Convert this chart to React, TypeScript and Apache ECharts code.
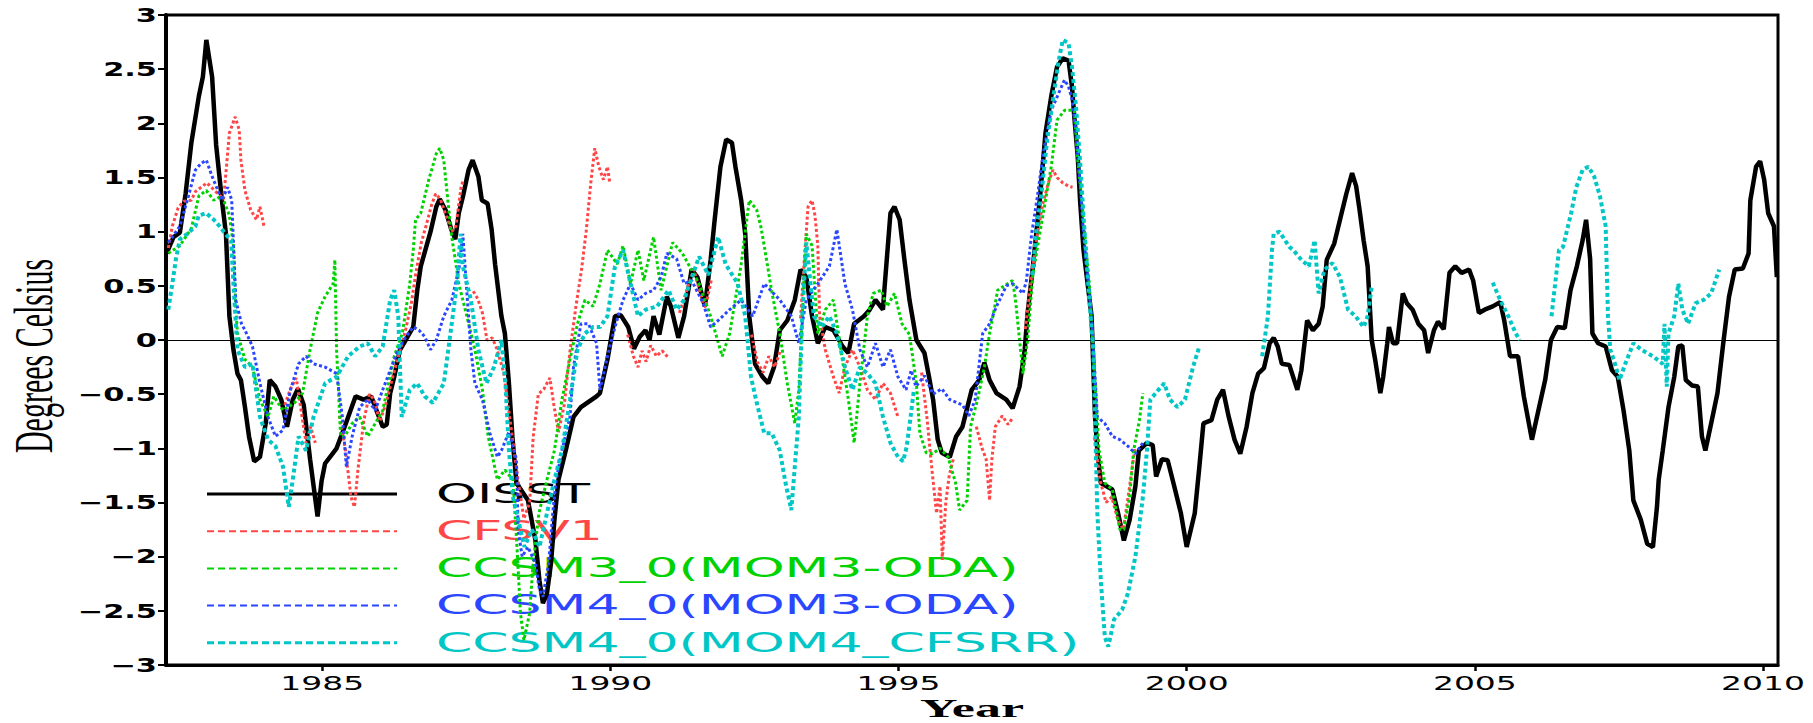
import React, { useEffect, useRef } from "react";
import * as echarts from "echarts";

const xTickYears = [1985, 1990, 1995, 2000, 2005, 2010];
const yTicks = [-3, -2.5, -2, -1.5, -1, -0.5, 0, 0.5, 1, 1.5, 2, 2.5, 3];
const seriesNames = ["OISST", "CFSV1", "CCSM3_0(MOM3-ODA)", "CCSM4_0(MOM3-ODA)", "CCSM4_0(MOM4_CFSRR)"];
const seriesColors = ["#000000", "#ff4646", "#00d200", "#2a46ff", "#00c6c6"];
const xTitle = "Year";
const yTitle = "Degrees Celsius";

const oisst = [
  [1982.30, 0.80], [1982.42, 0.95], [1982.53, 0.99], [1982.63, 1.35], [1982.73, 1.82], [1982.86, 2.25], [1982.93, 2.43],
  [1982.99, 2.77], [1983.09, 2.43], [1983.16, 1.80], [1983.26, 1.29], [1983.33, 0.98], [1983.39, 0.22], [1983.46, -0.09],
  [1983.53, -0.31], [1983.59, -0.37], [1983.66, -0.62], [1983.73, -0.89], [1983.82, -1.12], [1983.92, -1.08], [1984.02, -0.77],
  [1984.09, -0.37], [1984.19, -0.43], [1984.29, -0.55], [1984.39, -0.80], [1984.49, -0.55], [1984.58, -0.45], [1984.68, -0.60],
  [1984.79, -1.10], [1984.92, -1.63], [1984.99, -1.30], [1985.05, -1.14], [1985.25, -1.00], [1985.39, -0.80], [1985.58, -0.52],
  [1985.72, -0.55], [1985.85, -0.52], [1986.05, -0.80], [1986.12, -0.78], [1986.18, -0.49], [1986.25, -0.34], [1986.35, -0.09],
  [1986.45, 0.00], [1986.58, 0.12], [1986.65, 0.46], [1986.71, 0.68], [1986.88, 1.00], [1986.98, 1.23], [1987.04, 1.30],
  [1987.14, 1.20], [1987.24, 1.02], [1987.31, 0.93], [1987.37, 1.17], [1987.44, 1.32], [1987.54, 1.57], [1987.61, 1.66],
  [1987.71, 1.51], [1987.77, 1.29], [1987.87, 1.26], [1987.94, 1.02], [1988.00, 0.70], [1988.11, 0.22], [1988.17, 0.06],
  [1988.24, -0.40], [1988.30, -0.89], [1988.37, -1.32], [1988.57, -1.48], [1988.70, -1.85], [1988.77, -2.22], [1988.83, -2.43],
  [1988.90, -2.34], [1988.97, -2.06], [1989.03, -1.66], [1989.10, -1.29], [1989.23, -1.01], [1989.36, -0.71], [1989.49, -0.62],
  [1989.76, -0.52], [1989.82, -0.49], [1989.95, -0.18], [1990.08, 0.22], [1990.18, 0.23], [1990.31, 0.12], [1990.41, -0.08],
  [1990.51, 0.03], [1990.61, 0.09], [1990.68, 0.00], [1990.75, 0.22], [1990.85, 0.05], [1990.98, 0.40], [1991.05, 0.31],
  [1991.18, 0.02], [1991.28, 0.22], [1991.41, 0.65], [1991.51, 0.58], [1991.64, 0.31], [1991.74, 0.74], [1991.81, 1.11],
  [1991.91, 1.60], [1992.01, 1.85], [1992.11, 1.82], [1992.17, 1.60], [1992.27, 1.29], [1992.34, 0.98], [1992.41, 0.22],
  [1992.51, -0.22], [1992.64, -0.34], [1992.74, -0.40], [1992.84, -0.25], [1992.94, 0.09], [1993.07, 0.18], [1993.20, 0.37],
  [1993.30, 0.65], [1993.40, 0.58], [1993.50, 0.22], [1993.60, -0.03], [1993.73, 0.12], [1993.87, 0.09], [1994.03, -0.06],
  [1994.13, -0.12], [1994.23, 0.15], [1994.40, 0.22], [1994.50, 0.28], [1994.60, 0.37], [1994.73, 0.28], [1994.76, 0.50],
  [1994.86, 1.17], [1994.93, 1.23], [1995.02, 1.11], [1995.10, 0.75], [1995.19, 0.37], [1995.31, 0.00], [1995.45, -0.12],
  [1995.54, -0.37], [1995.60, -0.55], [1995.68, -0.92], [1995.75, -1.04], [1995.89, -1.08], [1996.00, -0.89], [1996.11, -0.80],
  [1996.27, -0.46], [1996.40, -0.37], [1996.49, -0.21], [1996.58, -0.37], [1996.70, -0.49], [1996.87, -0.55], [1996.98, -0.63],
  [1997.10, -0.43], [1997.19, -0.09], [1997.24, 0.25], [1997.33, 0.67], [1997.45, 1.29], [1997.55, 1.91],
  [1997.65, 2.25], [1997.75, 2.52], [1997.85, 2.60], [1997.95, 2.58], [1998.01, 2.34], [1998.05, 2.06], [1998.11, 1.69],
  [1998.15, 1.29], [1998.21, 0.83], [1998.35, 0.22], [1998.38, -0.25], [1998.41, -0.71], [1998.45, -1.02], [1998.51, -1.32],
  [1998.71, -1.38], [1998.81, -1.60], [1998.91, -1.85], [1999.01, -1.66], [1999.11, -1.35], [1999.17, -1.02], [1999.31, -0.95],
  [1999.41, -0.97], [1999.47, -1.26], [1999.57, -1.10], [1999.67, -1.11], [1999.77, -1.32], [1999.90, -1.60], [2000.00, -1.91],
  [2000.14, -1.60], [2000.22, -1.17], [2000.29, -0.77], [2000.43, -0.74], [2000.53, -0.55], [2000.63, -0.46], [2000.73, -0.71],
  [2000.83, -0.92], [2000.93, -1.05], [2001.04, -0.80], [2001.14, -0.49], [2001.24, -0.31], [2001.34, -0.26], [2001.44, -0.03],
  [2001.51, 0.02], [2001.58, -0.06], [2001.65, -0.22], [2001.78, -0.23], [2001.92, -0.46], [2001.99, -0.28], [2002.09, 0.18],
  [2002.19, 0.09], [2002.29, 0.15], [2002.36, 0.31], [2002.43, 0.74], [2002.56, 0.89], [2002.66, 1.11], [2002.77, 1.35],
  [2002.87, 1.54], [2002.94, 1.42], [2003.00, 1.20], [2003.07, 0.92], [2003.14, 0.68], [2003.21, 0.00], [2003.27, -0.18],
  [2003.36, -0.49], [2003.41, -0.34], [2003.48, -0.03], [2003.51, 0.12], [2003.58, -0.03], [2003.65, -0.03], [2003.75, 0.43],
  [2003.82, 0.34], [2003.92, 0.28], [2004.02, 0.15], [2004.12, 0.09], [2004.19, -0.12], [2004.29, 0.09], [2004.36, 0.17],
  [2004.46, 0.10], [2004.56, 0.62], [2004.66, 0.68], [2004.77, 0.62], [2004.90, 0.65], [2004.97, 0.55], [2005.07, 0.25],
  [2005.17, 0.28], [2005.31, 0.31], [2005.44, 0.35], [2005.51, 0.18], [2005.61, -0.15], [2005.75, -0.15], [2005.85, -0.52],
  [2005.99, -0.92], [2006.09, -0.68], [2006.22, -0.37], [2006.32, 0.00], [2006.43, 0.12], [2006.56, 0.11], [2006.66, 0.46],
  [2006.77, 0.68], [2006.87, 0.92], [2006.93, 1.11], [2007.00, 0.75], [2007.04, 0.06], [2007.14, -0.03], [2007.27, -0.06],
  [2007.38, -0.28], [2007.48, -0.34], [2007.58, -0.65], [2007.68, -1.02], [2007.75, -1.48], [2007.88, -1.66], [2007.99, -1.88],
  [2008.09, -1.91], [2008.16, -1.54], [2008.19, -1.29], [2008.26, -1.02], [2008.36, -0.62], [2008.46, -0.34], [2008.53, -0.06],
  [2008.60, -0.05], [2008.66, -0.37], [2008.77, -0.42], [2008.87, -0.43], [2008.94, -0.89], [2009.00, -1.02], [2009.10, -0.77],
  [2009.21, -0.49], [2009.31, -0.03], [2009.41, 0.40], [2009.51, 0.65], [2009.65, 0.66], [2009.75, 0.80], [2009.78, 1.29],
  [2009.88, 1.60], [2009.95, 1.65], [2010.02, 1.48], [2010.09, 1.17], [2010.19, 1.05], [2010.24, 0.58]
];

const cfsv1 = [
  [1982.33, 0.85], [1982.40, 1.05], [1982.50, 1.22], [1982.60, 1.28], [1982.73, 1.29], [1982.80, 1.37], [1983.00, 1.45],
  [1983.19, 1.35], [1983.29, 1.30], [1983.39, 1.91], [1983.49, 2.06], [1983.56, 1.94], [1983.59, 1.66], [1983.66, 1.38],
  [1983.76, 1.20], [1983.86, 1.11], [1983.92, 1.23], [1983.99, 1.05], [1984.2, "-"],
  [1984.35, -0.60], [1984.45, -0.45], [1984.55, -0.35], [1984.62, -0.60], [1984.72, -0.95], [1984.80, -0.80], [1984.88, -0.95], [1985.1, "-"],
  [1985.30, -0.70], [1985.40, -1.00], [1985.50, -1.45], [1985.56, -1.54], [1985.62, -1.20], [1985.72, -0.75], [1985.82, -0.50],
  [1985.90, -0.55], [1986.00, -0.75], [1986.10, -0.60], [1986.22, -0.35], [1986.35, -0.10], [1986.45, 0.10], [1986.55, 0.35],
  [1986.62, 0.60], [1986.72, 0.90], [1986.80, 1.05], [1986.90, 1.25], [1986.97, 1.35], [1987.05, 1.30], [1987.15, 1.15],
  [1987.25, 1.00], [1987.32, 1.05], [1987.41, 1.41], [1987.45, 1.48], [1987.53, "-"],
  [1987.62, 0.45], [1987.70, 0.38], [1987.78, 0.25], [1987.86, 0.00], [1987.95, 0.02], [1988.03, -0.08], [1988.15, -0.30],
  [1988.30, -0.90], [1988.40, -1.30], [1988.50, -1.65], [1988.60, -1.50], [1988.66, -0.90], [1988.75, -0.50], [1988.85, -0.45],
  [1988.95, -0.35], [1989.02, -0.60], [1989.10, -0.85], [1989.20, -0.60], [1989.30, -0.10], [1989.40, 0.30], [1989.50, 0.65],
  [1989.58, 1.00], [1989.66, 1.45], [1989.73, 1.77], [1989.80, 1.60], [1989.88, 1.48], [1989.95, 1.60], [1989.99, 1.45], [1990.15, "-"],
  [1990.30, 0.05], [1990.40, -0.15], [1990.48, -0.25], [1990.55, -0.10], [1990.62, -0.20], [1990.70, -0.05], [1990.80, -0.15],
  [1990.90, -0.10], [1991.00, -0.16], [1991.1, "-"],
  [1991.20, 0.25], [1991.35, 0.50], [1991.45, 0.65], [1991.55, 0.45], [1991.65, 0.30], [1991.75, 0.55], [1992.0, "-"],
  [1992.45, 0.05], [1992.55, -0.20], [1992.65, -0.30], [1992.75, -0.15], [1992.85, -0.25], [1992.95, -0.10], [1993.1, "-"],
  [1993.30, 0.20], [1993.36, 0.70], [1993.43, 1.23], [1993.50, 1.29], [1993.55, 1.15], [1993.60, 0.87], [1993.63, 0.22],
  [1993.73, -0.09], [1993.87, -0.34], [1993.97, -0.49], [1994.07, -0.25], [1994.20, -0.09], [1994.33, -0.25], [1994.46, -0.46],
  [1994.60, -0.55], [1994.73, -0.40], [1994.86, -0.49], [1994.99, -0.71], [1995.2, "-"],
  [1995.40, -0.30], [1995.50, -0.75], [1995.58, -1.20], [1995.66, -1.60], [1995.72, -1.35], [1995.76, -2.03], [1995.82, -1.50],
  [1995.88, -1.25], [1995.95, -1.10], [1996.2, "-"],
  [1996.35, -0.80], [1996.45, -1.00], [1996.52, -1.10], [1996.58, -1.48], [1996.62, -1.10], [1996.68, -0.80], [1996.80, -0.70],
  [1996.90, -0.78], [1996.98, -0.72], [1997.1, "-"],
  [1997.20, 0.10], [1997.30, 0.55], [1997.40, 0.95], [1997.50, 1.25], [1997.60, 1.45], [1997.68, 1.57], [1997.75, 1.50],
  [1997.85, 1.45], [1997.95, 1.42], [1998.02, 1.41], [1998.2, "-"],
  [1998.40, -0.90], [1998.50, -1.30], [1998.60, -1.50], [1998.70, -1.45], [1998.80, -1.65], [1998.90, -1.75], [1998.97, -1.50],
  [1999.05, -1.20], [1999.10, -1.00]
];

const ccsm3 = [
  [1982.33, 0.80], [1982.53, 0.87], [1982.73, 1.03], [1982.86, 1.33], [1982.99, 1.38], [1983.12, 1.29], [1983.26, 1.33],
  [1983.39, 1.15], [1983.46, 0.87], [1983.50, 0.30], [1983.53, 0.06], [1983.66, -0.18], [1983.79, -0.25], [1983.92, -0.55],
  [1984.06, -0.71], [1984.16, -0.52], [1984.32, -0.65], [1984.52, -0.58], [1984.66, -0.49], [1984.79, -0.09], [1984.92, 0.25],
  [1985.05, 0.40], [1985.19, 0.52], [1985.22, 0.74], [1985.25, -0.09], [1985.29, -0.55], [1985.32, -0.89], [1985.39, -0.89],
  [1985.52, -0.77], [1985.65, -0.71], [1985.79, -0.89], [1985.92, -0.77], [1986.05, -0.65], [1986.25, -0.15], [1986.39, 0.06],
  [1986.52, 0.52], [1986.58, 0.83], [1986.62, 1.11], [1986.71, 1.17], [1986.85, 1.48], [1986.98, 1.72], [1987.04, 1.77],
  [1987.11, 1.66], [1987.18, 1.29], [1987.24, 0.98], [1987.31, 0.74], [1987.37, 0.52], [1987.51, 0.22], [1987.65, -0.09],
  [1987.78, -0.46], [1987.88, -0.89], [1988.04, -1.29], [1988.17, -1.20], [1988.31, -1.29], [1988.38, -1.91], [1988.44, -2.52],
  [1988.50, -2.77], [1988.60, -2.52], [1988.66, -2.06], [1988.76, -1.60], [1988.90, -1.29], [1989.03, -1.02], [1989.16, -0.55],
  [1989.30, -0.18], [1989.43, 0.15], [1989.56, 0.37], [1989.70, 0.31], [1989.82, 0.52], [1989.95, 0.83], [1990.12, 0.70],
  [1990.22, 0.87], [1990.35, 0.52], [1990.48, 0.83], [1990.58, 0.55], [1990.75, 0.95], [1990.88, 0.46], [1991.08, 0.90],
  [1991.25, 0.80], [1991.54, 0.52], [1991.74, 0.22], [1991.94, -0.15], [1992.07, 0.06], [1992.27, 0.70], [1992.41, 1.29],
  [1992.54, 1.20], [1992.61, 1.05], [1992.67, 0.87], [1992.80, 0.45], [1992.94, 0.06], [1993.07, -0.40], [1993.20, -0.77],
  [1993.27, -0.46], [1993.33, 0.22], [1993.40, 0.98], [1993.50, 0.87], [1993.60, 0.06], [1993.73, 0.28], [1993.87, 0.37],
  [1994.00, -0.09], [1994.13, -0.55], [1994.23, -0.95], [1994.33, -0.40], [1994.46, 0.22], [1994.56, 0.43], [1994.70, 0.46],
  [1994.80, 0.31], [1994.93, 0.43], [1995.06, 0.15], [1995.19, 0.05], [1995.31, -0.40], [1995.37, -0.86], [1995.48, -1.04],
  [1995.59, -1.05], [1995.72, -1.00], [1995.86, -1.08], [1995.99, -1.32], [1996.06, -1.57], [1996.19, -1.48], [1996.25, -0.80],
  [1996.37, -0.55], [1996.49, -0.25], [1996.58, 0.06], [1996.67, 0.31], [1996.72, 0.46], [1996.98, 0.55], [1997.03, 0.37],
  [1997.10, 0.00], [1997.16, -0.31], [1997.24, 0.00], [1997.33, 0.60], [1997.45, 0.98], [1997.65, 1.60], [1997.75, 2.03],
  [1997.88, 2.12], [1998.05, 2.12], [1998.11, 1.66],
  [1998.18, 1.29], [1998.31, 0.52], [1998.41, -0.40], [1998.48, -1.02], [1998.58, -1.32], [1998.71, -1.38], [1998.84, -1.75],
  [1998.91, -1.75], [1999.01, -1.45], [1999.08, -1.02], [1999.18, -0.74], [1999.24, -0.49]
];

const ccsm4mom3 = [
  [1982.33, 0.90], [1982.53, 1.05], [1982.66, 1.29], [1982.80, 1.57], [1982.90, 1.63], [1982.99, 1.66], [1983.09, 1.51],
  [1983.19, 1.38], [1983.26, 1.29], [1983.36, 1.41], [1983.43, 1.29], [1983.46, 0.90], [1983.50, 0.37], [1983.60, 0.15],
  [1983.66, 0.09], [1983.79, -0.06], [1983.92, -0.40], [1984.06, -0.71], [1984.19, -0.89], [1984.32, -0.83], [1984.45, -0.46],
  [1984.59, -0.22], [1984.72, -0.15], [1984.85, -0.22], [1985.05, -0.25], [1985.25, -0.31], [1985.35, -0.71], [1985.42, -1.17],
  [1985.52, -0.89], [1985.65, -0.62], [1985.79, -0.55], [1985.92, -0.65], [1986.05, -0.46], [1986.18, -0.28], [1986.32, -0.09],
  [1986.45, 0.03], [1986.58, 0.12], [1986.68, 0.09], [1986.78, 0.03], [1986.88, -0.09], [1986.98, 0.00], [1987.11, 0.22],
  [1987.25, 0.37], [1987.38, 0.68], [1987.44, 0.98], [1987.50, 0.52], [1987.58, -0.09], [1987.65, -0.40], [1987.78, -0.55],
  [1987.91, -0.86], [1988.04, -1.08], [1988.11, -1.02], [1988.24, -0.85], [1988.37, -1.10], [1988.40, -1.75], [1988.47, -2.00],
  [1988.57, -1.91], [1988.70, -2.06], [1988.77, -2.31], [1988.83, -2.37], [1988.93, -2.06], [1989.00, -1.60], [1989.06, -1.29],
  [1989.16, -1.02], [1989.30, -0.71], [1989.36, -0.25], [1989.49, 0.15], [1989.62, 0.15], [1989.76, -0.03], [1989.82, -0.46],
  [1989.95, -0.15], [1990.08, 0.12], [1990.22, 0.37], [1990.35, 0.52], [1990.48, 0.37], [1990.61, 0.43], [1990.75, 0.46],
  [1990.88, 0.58], [1990.98, 0.80], [1991.15, 0.75], [1991.28, 0.52], [1991.41, 0.55], [1991.61, 0.34], [1991.74, 0.12],
  [1991.87, 0.18], [1992.07, 0.28], [1992.27, 0.37], [1992.47, 0.22], [1992.67, 0.52], [1992.94, 0.37], [1993.14, 0.22],
  [1993.27, -0.03], [1993.40, 0.37], [1993.60, 0.52], [1993.80, 0.68], [1993.93, 1.02], [1994.07, 0.52], [1994.20, 0.28],
  [1994.33, -0.09], [1994.46, -0.25], [1994.60, -0.03], [1994.73, -0.25], [1994.86, -0.09], [1994.99, -0.34], [1995.13, -0.46],
  [1995.22, -0.28], [1995.30, -0.43], [1995.45, -0.33], [1995.60, -0.50], [1995.75, -0.45], [1995.89, -0.55], [1996.11, -0.60],
  [1996.22, -0.70], [1996.33, -0.55], [1996.46, 0.06], [1996.58, 0.15], [1996.70, 0.31], [1996.87, 0.50], [1996.98, 0.52],
  [1997.16, 0.43], [1997.22, 0.55], [1997.31, 0.98], [1997.40, 1.29], [1997.52, 1.75], [1997.65, 2.12], [1997.78, 2.28],
  [1997.88, 2.40], [1997.95, 2.34], [1998.01, 2.22], [1998.08, 1.91], [1998.15, 1.45], [1998.21, 0.98], [1998.35, 0.22],
  [1998.45, -0.71], [1998.58, -0.77], [1998.71, -0.89], [1998.84, -0.92], [1998.98, -0.98], [1999.11, -1.05], [1999.24, -0.95]
];

const ccsm4mom4 = [
  [1982.33, 0.28], [1982.40, 0.52], [1982.46, 0.74], [1982.53, 0.93], [1982.66, 0.98], [1982.80, 1.05], [1982.86, 1.15],
  [1982.99, 1.17], [1983.12, 1.11], [1983.22, 1.05], [1983.32, 0.98], [1983.42, 0.92], [1983.46, 0.52], [1983.53, -0.09],
  [1983.66, -0.25], [1983.79, -0.22], [1983.92, -0.71], [1984.06, -0.92], [1984.19, -0.98], [1984.32, -1.17], [1984.42, -1.54],
  [1984.49, -1.29], [1984.59, -0.89], [1984.72, -1.02], [1984.85, -0.71], [1985.05, -0.40], [1985.25, -0.34], [1985.45, -0.15],
  [1985.65, -0.06], [1985.79, -0.03], [1985.92, -0.15], [1986.05, -0.06], [1986.18, 0.37], [1986.25, 0.46], [1986.32, 0.22],
  [1986.38, -0.71], [1986.52, -0.46], [1986.65, -0.40], [1986.78, -0.52], [1986.92, -0.58], [1987.11, -0.40], [1987.24, 0.12],
  [1987.34, 0.52], [1987.40, 0.98], [1987.44, 0.68], [1987.58, 0.37], [1987.71, -0.09], [1987.85, -0.40], [1987.98, -0.25],
  [1988.11, 0.00], [1988.18, -0.40], [1988.24, -1.02], [1988.31, -1.45], [1988.51, -1.91], [1988.64, -1.75], [1988.77, -1.91],
  [1988.90, -1.60], [1989.03, -1.29], [1989.16, -1.02], [1989.30, -0.55], [1989.43, -0.09], [1989.56, 0.06], [1989.70, 0.12],
  [1989.82, 0.12], [1989.95, 0.22], [1990.08, 0.68], [1990.22, 0.83], [1990.35, 0.52], [1990.48, 0.22], [1990.61, 0.28],
  [1990.81, 0.31], [1991.01, 0.46], [1991.15, 0.28], [1991.28, 0.37], [1991.54, 0.77], [1991.70, 0.60], [1991.87, 0.95],
  [1992.00, 0.70], [1992.21, 0.52], [1992.34, 0.22], [1992.44, -0.34], [1992.54, -0.58], [1992.67, -0.86], [1992.80, -0.86],
  [1992.94, -1.02], [1993.04, -1.32], [1993.14, -1.57], [1993.27, -0.71], [1993.33, 0.22], [1993.40, 0.90], [1993.53, 0.22],
  [1993.67, 0.12], [1993.80, 0.22], [1993.93, 0.06], [1994.07, -0.25], [1994.20, -0.46], [1994.33, -0.25], [1994.46, -0.31],
  [1994.60, -0.40], [1994.73, -0.71], [1994.86, -0.95], [1994.99, -1.08], [1995.08, -1.12], [1995.14, -0.99], [1995.20, -0.75],
  [1995.27, -0.45], [1996.3, "-"],
  [1997.32, 0.60], [1997.40, 1.05], [1997.48, 1.35], [1997.58, 1.85], [1997.68, 2.22], [1997.78, 2.58], [1997.85, 2.77], [1997.95, 2.74],
  [1998.01, 2.52], [1998.08, 2.15], [1998.15, 1.66], [1998.21, 1.14], [1998.25, 0.83], [1998.31, 0.37], [1998.38, -0.09],
  [1998.45, -1.60], [1998.51, -2.22], [1998.58, -2.74], [1998.64, -2.83], [1998.74, -2.58], [1998.88, -2.49], [1998.98, -2.34],
  [1999.11, -2.00], [1999.24, -1.45], [1999.31, -1.02], [1999.37, -0.55], [1999.51, -0.46], [1999.61, -0.40], [1999.71, -0.55],
  [1999.84, -0.62], [1999.97, -0.55], [2000.11, -0.25], [2000.22, -0.06], [2000.8, "-"],
  [2001.31, -0.15], [2001.41, 0.22], [2001.48, 0.83], [2001.51, 0.98], [2001.61, 1.00], [2001.78, 0.86], [2001.85, 0.83],
  [2001.99, 0.74], [2002.12, 0.68], [2002.22, 0.92], [2002.29, 0.43], [2002.39, 0.65], [2002.53, 0.71], [2002.66, 0.58],
  [2002.80, 0.28], [2002.93, 0.22], [2003.07, 0.12], [2003.14, 0.22], [2003.21, 0.49], [2004.2, "-"],
  [2005.31, 0.53], [2005.44, 0.37], [2005.58, 0.22], [2005.71, 0.06], [2005.78, 0.00], [2006.0, "-"],
  [2006.33, 0.22], [2006.46, 0.83], [2006.53, 0.86], [2006.67, 1.17], [2006.76, 1.41], [2006.87, 1.57], [2006.97, 1.60],
  [2007.07, 1.51], [2007.17, 1.33], [2007.27, 1.05], [2007.31, 0.22], [2007.35, -0.09], [2007.41, -0.18], [2007.51, -0.37],
  [2007.61, -0.22], [2007.75, -0.03], [2007.89, -0.09], [2008.09, -0.15], [2008.26, -0.22], [2008.29, 0.15], [2008.33, -0.43],
  [2008.36, 0.06], [2008.46, 0.22], [2008.53, 0.52], [2008.60, 0.28], [2008.70, 0.15], [2008.83, 0.34], [2008.97, 0.37],
  [2009.10, 0.43], [2009.24, 0.65]
];

const seriesData = [oisst, cfsv1, ccsm3, ccsm4mom3, ccsm4mom4];

export default function App() {
  const ref = useRef<HTMLDivElement>(null);
  useEffect(() => {
    if (!ref.current) return;
    const chart = echarts.init(ref.current, null, { renderer: "svg" });
    const widths = [4.5, 3, 3, 3, 4];
    const dashes: any[] = ["solid", [3, 2.5], [3, 2.5], [3, 2.5], [4, 3]];
    const series: any[] = seriesData.map((d, i) => ({
      name: seriesNames[i],
      type: "line",
      data: d,
      showSymbol: false,
      symbol: "none",
      connectNulls: false,
      z: 2 + i,
      lineStyle: { color: seriesColors[i], width: widths[i], type: dashes[i], cap: "butt" },
      itemStyle: { color: seriesColors[i] },
      ...(i === 0
        ? {
            markLine: {
              silent: true,
              symbol: ["none", "none"],
              label: { show: false },
              lineStyle: { color: "#000", width: 1.2, type: "solid" },
              data: [{ yAxis: 0 }],
            },
          }
        : {}),
    }));

    chart.setOption({
      animation: false,
      backgroundColor: "#ffffff",
      grid: { left: 166, right: 35, top: 15, bottom: 58, show: true, borderColor: "#000", borderWidth: 3, backgroundColor: "transparent" },
      xAxis: {
        type: "value",
        min: 1982.29,
        max: 2010.26,
        axisLine: { show: true, onZero: false, lineStyle: { color: "#000", width: 3 } },
        axisTick: { show: true, customValues: xTickYears, length: 6, lineStyle: { color: "#000", width: 2.5 } },
        axisLabel: { show: false },
        splitLine: { show: false },
      },
      yAxis: {
        type: "value",
        min: -3,
        max: 3,
        interval: 0.5,
        axisLine: { show: true, onZero: false, lineStyle: { color: "#000", width: 4 } },
        axisTick: { show: true, length: 8, lineStyle: { color: "#000", width: 2 } },
        axisLabel: { show: false },
        splitLine: { show: false },
      },
      series,
    });

    const toPx = (x: number, y: number) => chart.convertToPixel({ gridIndex: 0 }, [x, y]) as number[];
    const txt = (text: string, x: number, y: number, font: string, align: string, vAlign: string, extra: any = {}, fill = "#000") => ({
      type: "text",
      x,
      y,
      z: 1,
      ...extra,
      style: { text, font, fill, align, verticalAlign: vAlign, textAlign: align, textVerticalAlign: vAlign },
    });
    const els: any[] = [];
    xTickYears.forEach((yr) => {
      const p = toPx(yr, -3);
      els.push(txt(String(yr), p[0], p[1] + 18.5, '20px "DejaVu Sans"', "center", "middle", { scaleX: 1.65 }));
    });
    yTicks.forEach((v) => {
      const p = toPx(1982.29, v);
      const label = v < 0 ? "\u2212" + String(Math.abs(v)) : String(v);
      els.push(txt(label, p[0] - 9, p[1], 'bold 19px "DejaVu Sans"', "right", "middle", { scaleX: 1.6 }));
    });
    const pl = toPx(1982.29, 0);
    const pr = toPx(2010.26, -3);
    const pt = toPx(1982.29, 3);
    els.push(txt(xTitle, (pl[0] + pr[0]) / 2, pr[1] + 43, 'bold 26px "Liberation Serif"', "center", "middle", { scaleX: 2.0 }));
    els.push(txt(yTitle, 33.5, (pt[1] + pr[1]) / 2 + 16, '30px "Liberation Serif"', "center", "middle", { rotation: Math.PI / 2, scaleY: 1.85 }));

    const legX1 = 207, legX2 = 397, legTextX = 436, legY0 = 494, legDy = 37.2;
    const legWidths = [3, 2, 2, 2, 3];
    seriesNames.forEach((name, i) => {
      const y = legY0 + i * legDy;
      els.push({
        type: "line",
        z: 1,
        shape: { x1: legX1, y1: y, x2: legX2, y2: y },
        style: { stroke: seriesColors[i], lineWidth: legWidths[i], lineDash: i === 0 ? null : [7, 4] },
      });
      els.push(txt(name, legTextX, y, '26px "DejaVu Sans"', "left", "middle", { scaleX: 2.0 }, seriesColors[i]));
    });

    chart.setOption({ graphic: { elements: els } });
    return () => chart.dispose();
  }, []);
  return <div ref={ref} style={{ position: "absolute", left: 0, top: 0, width: 1813, height: 723 }} />;
}
